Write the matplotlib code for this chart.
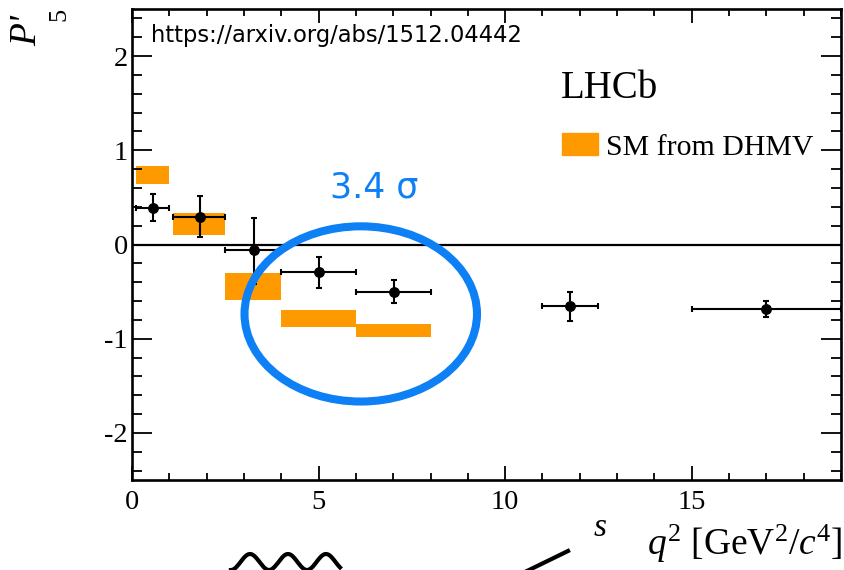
import numpy as np
import matplotlib
matplotlib.use("Agg")
import matplotlib.pyplot as plt
from matplotlib.patches import Ellipse, Patch
from matplotlib.lines import Line2D
from matplotlib.ticker import MultipleLocator

plt.rcParams['axes.unicode_minus'] = False
plt.rcParams['mathtext.fontset'] = 'custom'
plt.rcParams['mathtext.rm'] = 'Liberation Serif'
plt.rcParams['mathtext.it'] = 'Liberation Serif:italic'

# ---- LHCb P5' measurement (q2 bins) ----
q2_lo = np.array([0.1, 1.1, 2.5, 4.0, 6.0, 11.0, 15.0])
q2_hi = np.array([0.98, 2.5, 4.0, 6.0, 8.0, 12.5, 19.0])
q2_mid = np.array([0.55, 1.81, 3.26, 5.02, 7.01, 11.75, 16.98])
p5 = np.array([0.388, 0.293, -0.06, -0.293, -0.50, -0.653, -0.68])
p5_up = np.array([0.148, 0.218, 0.34, 0.16, 0.123, 0.153, 0.08])
p5_dn = np.array([0.141, 0.212, 0.36, 0.167, 0.124, 0.157, 0.085])

# ---- SM prediction (DHMV) boxes ----
sm_lo = np.array([0.1, 1.1, 2.5, 4.0, 6.0])
sm_hi = np.array([0.98, 2.5, 4.0, 6.0, 8.0])
sm_top = np.array([0.836, 0.335, -0.307, -0.698, -0.847])
sm_bot = np.array([0.642, 0.098, -0.59, -0.875, -0.981])

# ---- tension ellipse ----
ell_centre = (6.13, -0.737)
ell_w, ell_h = 6.23, 1.86

orange = '#ff9900'
blue = '#0d80f5'
serif = 'Liberation Serif'

fig = plt.figure(figsize=(8.44, 5.7), dpi=100)
ax = fig.add_axes([132/844, 1-480/570, (841-132)/844, (480-9)/570])

ax.bar(sm_lo, sm_top - sm_bot, bottom=sm_bot, width=sm_hi - sm_lo,
       align='edge', color=orange, zorder=1, label='SM from DHMV')
ax.axhline(0, color='black', lw=1.6, zorder=2)
ax.errorbar(q2_mid, p5, xerr=[q2_mid - q2_lo, q2_hi - q2_mid], yerr=[p5_dn, p5_up],
            fmt='o', color='black', ms=6.8, elinewidth=1.5, capsize=2.2, capthick=1.5,
            zorder=3)
ax.add_patch(Ellipse(ell_centre, ell_w, ell_h, fill=False, lw=5.8, edgecolor=blue, zorder=4))

ax.set_xlim(0, 19)
ax.set_ylim(-2.5, 2.5)
ax.xaxis.set_major_locator(MultipleLocator(5))
ax.xaxis.set_minor_locator(MultipleLocator(1))
ax.yaxis.set_major_locator(MultipleLocator(1))
ax.yaxis.set_minor_locator(MultipleLocator(0.2))
ax.tick_params(which='both', direction='in', top=True, right=True, width=1.3,
               labelsize=20.5)
ax.tick_params(axis='y', which='major', length=14.5, pad=3)
ax.tick_params(axis='y', which='minor', length=7.5)
ax.tick_params(axis='x', which='major', length=10, pad=7.5)
ax.tick_params(axis='x', which='minor', length=5.2)
for lab in ax.get_xticklabels() + ax.get_yticklabels():
    lab.set_fontfamily(serif)
for sp in ax.spines.values():
    sp.set_linewidth(1.9)

leg = ax.legend(handles=[Patch(color=orange, label='SM from DHMV')],
                loc='center left', bbox_to_anchor=(561.7/844, 1-147/570),
                bbox_transform=fig.transFigure, frameon=False, borderpad=0,
                borderaxespad=0, handlelength=1.2, handleheight=0.76,
                handletextpad=0.28, prop={'family': serif, 'size': 21.5})

# ---- texts ----
def px(x, y):
    return x/844, 1 - y/570

fig.text(*px(561, 98.3), 'LHCb', family=serif, fontsize=28, va='baseline')
fig.text(*px(151, 41.7), 'https://arxiv.org/abs/1512.04442', family='DejaVu Sans',
         fontsize=16.3, va='baseline')
fig.text(*px(373.8, 197.3), '3.4 σ', family='DejaVu Sans', fontsize=25,
         color=blue, ha='center', va='baseline')
fig.text(*px(842, 555), r'$q^{2}$ [GeV$^{2}$/$c^{4}$]', family=serif, fontsize=27,
         ha='right', va='baseline')
fig.text(*px(44, 46), "P'", family=serif, style='italic', fontsize=27,
         rotation=90, ha='right', va='bottom')
fig.text(*px(70.5, 14), '5', family=serif, fontsize=19, rotation=90,
         ha='right', va='center')
fig.text(*px(594, 536), 's', family=serif, style='italic', fontsize=24, va='baseline')

# ---- clipped Feynman-diagram pieces below the frame ----
wx = np.linspace(231, 340, 200)
wy = 562 - 8*np.cos(2*np.pi*(wx - 250)/38)
fig.add_artist(Line2D(wx/844, 1 - wy/570, color='black', lw=3))
fig.add_artist(Line2D([527/844, 568/844], [1 - 571/570, 1 - 551/570], color='black', lw=3))

fig.savefig('out.png', dpi=100)
